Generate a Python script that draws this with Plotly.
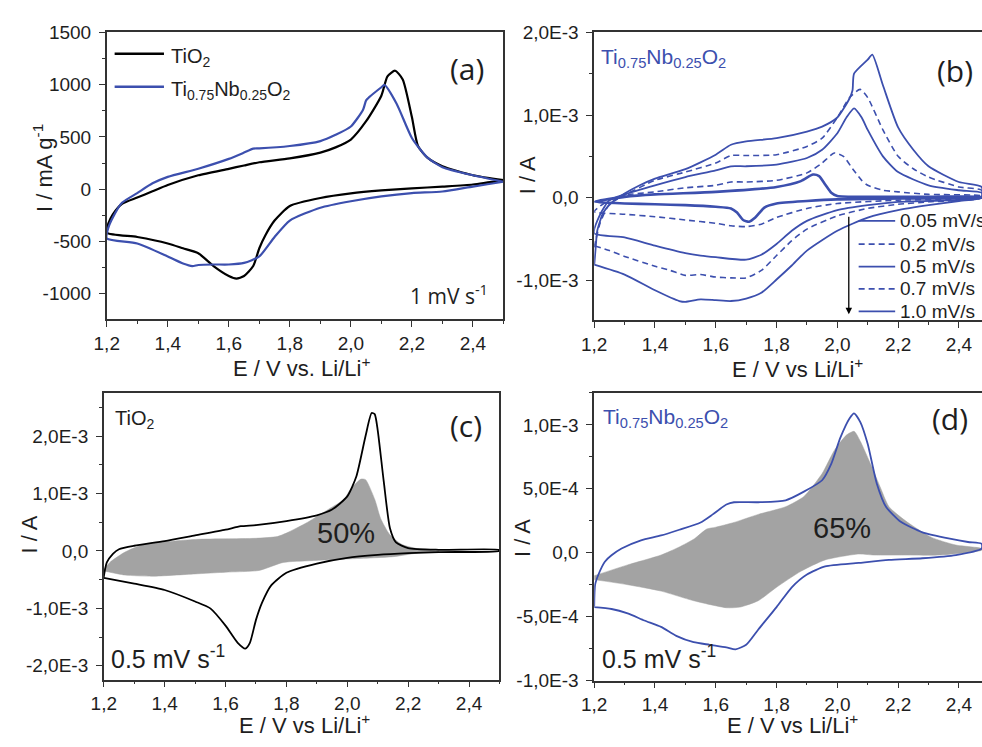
import plotly.graph_objects as go

W, H = 982, 747
BLUE = "#3c4fae"
GRAY = "#a3a3a3"
AX = "#333333"
TXT = "#1e1e1e"
FONT = "Arial, Liberation Sans, sans-serif"
FONT2 = "Open Sans, sans-serif"

# ---------------- Panel (a): I / mA g^-1, 1 mV/s ----------------
a_tio2_up_E = [1.2, 1.205, 1.22, 1.25, 1.3, 1.35, 1.4, 1.5, 1.6, 1.65, 1.7, 1.8, 1.9, 1.95, 2.0, 2.05, 2.1, 2.12, 2.145, 2.17, 2.2, 2.22, 2.25, 2.3, 2.4, 2.5]
a_tio2_up_I = [-415, -330, -240, -140, -80, -20, 40, 133, 195, 227, 258, 295, 350, 400, 475, 650, 894, 1080, 1133, 1050, 690, 413, 304, 220, 133, 87]
a_tio2_dn_E = [2.5, 2.4, 2.3, 2.2, 2.1, 2.0, 1.9, 1.8, 1.75, 1.72, 1.7, 1.68, 1.65, 1.625, 1.6, 1.55, 1.5, 1.45, 1.4, 1.3, 1.2]
a_tio2_dn_I = [87, 45, 25, 8, -12, -40, -84, -160, -300, -440, -565, -735, -830, -855, -830, -735, -612, -565, -519, -457, -415]

a_nb_up_E = [1.2, 1.205, 1.22, 1.25, 1.3, 1.35, 1.4, 1.5, 1.6, 1.65, 1.68, 1.7, 1.8, 1.9, 1.95, 2.0, 2.04, 2.05, 2.06, 2.1, 2.11, 2.15, 2.2, 2.25, 2.3, 2.4, 2.5]
a_nb_up_I = [-470, -370, -270, -130, -37, 56, 118, 196, 290, 350, 388, 390, 413, 460, 520, 600, 760, 850, 880, 975, 997, 817, 490, 304, 211, 133, 71]
a_nb_dn_E = [2.5, 2.4, 2.3, 2.2, 2.1, 2.0, 1.9, 1.8, 1.75, 1.7, 1.65, 1.6, 1.55, 1.5, 1.48, 1.45, 1.4, 1.3, 1.2]
a_nb_dn_I = [71, 25, -22, -37, -68, -115, -177, -300, -457, -643, -705, -720, -720, -725, -735, -710, -643, -519, -470]
a_names = ["TiO<sub>2</sub>", "Ti<sub>0.75</sub>Nb<sub>0.25</sub>O<sub>2</sub>"]

# ---------------- Panel (b): Ti0.75Nb0.25O2 at several scan rates (mA) ----------------
b_rates = ["0.05 mV/s", "0.2 mV/s", "0.5 mV/s", "0.7 mV/s", "1.0 mV/s"]
b_dashes = ["solid", "dash", "solid", "dash", "solid"]

b005_up_E = [1.2, 1.3, 1.4, 1.6, 1.8, 1.88, 1.92, 1.94, 1.96, 1.98, 2.0, 2.1, 2.3, 2.475]
b005_up_I = [-0.05, 0.01, 0.04, 0.07, 0.13, 0.2, 0.28, 0.26, 0.16, 0.06, 0.02, 0.01, 0.01, 0.01]
b005_dn_E = [2.475, 2.2, 2.0, 1.9, 1.8, 1.76, 1.73, 1.71, 1.69, 1.67, 1.65, 1.6, 1.5, 1.4, 1.3, 1.2]
b005_dn_I = [0.0, -0.01, -0.02, -0.04, -0.07, -0.12, -0.24, -0.29, -0.27, -0.18, -0.13, -0.11, -0.09, -0.08, -0.07, -0.05]

b02_up_E = [1.2, 1.22, 1.25, 1.3, 1.4, 1.5, 1.6, 1.65, 1.7, 1.8, 1.9, 1.95, 1.99, 2.02, 2.05, 2.08, 2.1, 2.15, 2.2, 2.3, 2.475]
b02_up_I = [-0.17, -0.1, -0.03, 0.03, 0.07, 0.12, 0.15, 0.19, 0.19, 0.21, 0.3, 0.42, 0.54, 0.5, 0.35, 0.21, 0.15, 0.09, 0.07, 0.04, 0.02]
b02_dn_E = [2.475, 2.2, 2.0, 1.9, 1.8, 1.75, 1.7, 1.65, 1.6, 1.5, 1.4, 1.3, 1.2]
b02_dn_I = [0.0, -0.03, -0.07, -0.13, -0.24, -0.32, -0.35, -0.34, -0.31, -0.27, -0.23, -0.2, -0.17]

b05_up_E = [1.2, 1.22, 1.25, 1.3, 1.4, 1.5, 1.6, 1.65, 1.7, 1.8, 1.9, 1.95, 2.0, 2.03, 2.055, 2.08, 2.1, 2.15, 2.2, 2.3, 2.4, 2.475]
b05_up_I = [-0.43, -0.2, -0.03, 0.04, 0.15, 0.25, 0.33, 0.38, 0.38, 0.40, 0.48, 0.58, 0.78, 0.97, 1.08, 0.97, 0.82, 0.5, 0.31, 0.15, 0.09, 0.06]
b05_dn_E = [2.475, 2.2, 2.1, 2.0, 1.9, 1.85, 1.8, 1.75, 1.7, 1.6, 1.55, 1.5, 1.4, 1.3, 1.2]
b05_dn_I = [0.0, -0.05, -0.09, -0.15, -0.28, -0.4, -0.56, -0.69, -0.75, -0.72, -0.70, -0.67, -0.58, -0.48, -0.43]

b07_up_E = [1.2, 1.22, 1.25, 1.3, 1.4, 1.5, 1.6, 1.65, 1.7, 1.8, 1.9, 1.95, 2.0, 2.04, 2.075, 2.1, 2.15, 2.2, 2.25, 2.3, 2.4, 2.475]
b07_up_I = [-0.6, -0.3, -0.08, 0.03, 0.21, 0.31, 0.42, 0.51, 0.51, 0.52, 0.62, 0.72, 0.97, 1.21, 1.31, 1.21, 0.82, 0.5, 0.35, 0.25, 0.13, 0.09]
b07_dn_E = [2.475, 2.3, 2.2, 2.1, 2.0, 1.9, 1.85, 1.8, 1.75, 1.7, 1.65, 1.6, 1.55, 1.5, 1.45, 1.4, 1.3, 1.25, 1.2]
b07_dn_I = [0.0, -0.05, -0.08, -0.13, -0.22, -0.38, -0.52, -0.7, -0.88, -0.97, -0.97, -0.96, -0.93, -0.94, -0.88, -0.83, -0.71, -0.64, -0.58]

b10_up_E = [1.2, 1.205, 1.21, 1.23, 1.26, 1.3, 1.35, 1.4, 1.5, 1.6, 1.65, 1.7, 1.8, 1.9, 1.95, 2.0, 2.04, 2.05, 2.055, 2.1, 2.115, 2.15, 2.2, 2.25, 2.3, 2.4, 2.475]
b10_up_I = [-0.82, -0.6, -0.4, -0.18, -0.05, 0.05, 0.15, 0.23, 0.345, 0.52, 0.64, 0.68, 0.72, 0.80, 0.86, 0.97, 1.2, 1.3, 1.5, 1.67, 1.73, 1.36, 0.85, 0.58, 0.38, 0.19, 0.13]
b10_dn_E = [2.475, 2.4, 2.3, 2.2, 2.1, 2.0, 1.9, 1.85, 1.8, 1.75, 1.7, 1.65, 1.6, 1.55, 1.5, 1.48, 1.4, 1.3, 1.2]
b10_dn_I = [0.0, -0.04, -0.09, -0.15, -0.24, -0.4, -0.64, -0.82, -0.99, -1.15, -1.22, -1.25, -1.24, -1.23, -1.26, -1.25, -1.12, -0.93, -0.81]

# ---------------- Panel (c): TiO2, 0.5 mV/s (mA) ----------------
c_up_E = [1.2, 1.205, 1.21, 1.23, 1.25, 1.3, 1.4, 1.5, 1.6, 1.65, 1.7, 1.8, 1.9, 1.95, 2.0, 2.03, 2.06, 2.08, 2.09, 2.1, 2.12, 2.14, 2.16, 2.2, 2.3, 2.5]
c_up_I = [-0.45, -0.3, -0.2, -0.05, 0.03, 0.09, 0.17, 0.27, 0.37, 0.43, 0.45, 0.52, 0.62, 0.72, 0.95, 1.3, 2.0, 2.4, 2.38, 2.1, 1.2, 0.4, 0.15, 0.05, 0.02, 0.02]
c_dn_E = [2.5, 2.3, 2.2, 2.1, 2.0, 1.9, 1.8, 1.75, 1.72, 1.7, 1.68, 1.665, 1.64, 1.6, 1.55, 1.5, 1.4, 1.3, 1.2]
c_dn_I = [0.0, -0.02, -0.04, -0.07, -0.12, -0.22, -0.38, -0.6, -0.9, -1.2, -1.6, -1.7, -1.6, -1.3, -1.0, -0.88, -0.68, -0.57, -0.47]
c_cap_up_E = [1.2, 1.22, 1.27, 1.33, 1.5, 1.6, 1.7, 1.77, 1.8, 1.87, 1.94, 1.99, 2.01, 2.045, 2.06, 2.09, 2.11, 2.14, 2.18, 2.24, 2.3]
c_cap_up_I = [-0.34, -0.2, -0.02, 0.11, 0.2, 0.21, 0.22, 0.25, 0.31, 0.5, 0.73, 0.9, 1.07, 1.25, 1.24, 0.9, 0.56, 0.28, 0.11, 0.03, 0.0]
c_cap_dn_E = [2.3, 2.24, 2.15, 2.0, 1.88, 1.79, 1.71, 1.6, 1.5, 1.36, 1.27, 1.22, 1.2]
c_cap_dn_I = [-0.01, -0.03, -0.1, -0.14, -0.17, -0.2, -0.34, -0.37, -0.4, -0.44, -0.42, -0.37, -0.34]

# ---------------- Panel (d): Ti0.75Nb0.25O2, 0.5 mV/s (1e-4 A) ----------------
d_up_E = [1.2, 1.203, 1.214, 1.235, 1.257, 1.29, 1.354, 1.42, 1.48, 1.55, 1.59, 1.635, 1.66, 1.74, 1.83, 1.89, 1.95, 1.98, 2.01, 2.04, 2.055, 2.076, 2.1, 2.13, 2.16, 2.21, 2.28, 2.37, 2.43, 2.475]
d_up_I = [-4.2, -2.5, -1.7, -0.7, -0.2, 0.33, 0.97, 1.35, 1.8, 2.37, 3.0, 3.77, 3.95, 3.95, 4.1, 4.78, 5.67, 6.95, 9.0, 10.5, 10.9, 10.2, 8.5, 5.4, 3.6, 2.4, 1.6, 1.1, 0.84, 0.7]
d_dn_E = [2.475, 2.39, 2.28, 2.17, 2.07, 1.96, 1.9, 1.85, 1.8, 1.74, 1.7, 1.665, 1.635, 1.58, 1.527, 1.47, 1.42, 1.365, 1.31, 1.257, 1.2]
d_dn_I = [0.33, -0.18, -0.43, -0.56, -0.8, -1.07, -1.7, -2.7, -4.25, -6.0, -7.2, -7.55, -7.4, -7.2, -7.0, -6.5, -5.8, -5.3, -4.75, -4.4, -4.25]
d_cap_up_E = [1.2, 1.31, 1.42, 1.48, 1.53, 1.57, 1.6, 1.66, 1.74, 1.83, 1.89, 1.95, 1.99, 2.03, 2.055, 2.076, 2.11, 2.14, 2.17, 2.23, 2.31, 2.39, 2.475]
d_cap_up_I = [-1.8, -0.95, -0.18, 0.45, 1.1, 1.85, 2.0, 2.37, 3.0, 3.6, 4.4, 6.2, 8.0, 9.2, 9.5, 8.7, 6.9, 5.2, 3.6, 2.4, 1.2, 0.6, 0.33]
d_cap_dn_E = [2.475, 2.335, 2.23, 2.12, 2.07, 1.96, 1.88, 1.8, 1.74, 1.68, 1.635, 1.527, 1.42, 1.31, 1.2]
d_cap_dn_I = [0.2, -0.18, -0.18, -0.18, -0.1, -0.56, -1.45, -2.7, -3.75, -4.25, -4.3, -3.75, -3.0, -2.5, -2.1]

# ---------------- tick labels ----------------
x_tickvals = [1.2, 1.4, 1.6, 1.8, 2.0, 2.2, 2.4]
x_ticktext = ["1,2", "1,4", "1,6", "1,8", "2,0", "2,2", "2,4"]
a_y_tickvals = [-1000, -500, 0, 500, 1000, 1500]
a_y_ticktext = ["-1000", "-500", "0", "500", "1000", "1500"]
b_y_tickvals = [-1e-3, 0, 1e-3, 2e-3]
b_y_ticktext = ["-1,0E-3", "0,0", "1,0E-3", "2,0E-3"]
c_y_tickvals = [-2e-3, -1e-3, 0, 1e-3, 2e-3]
c_y_ticktext = ["-2,0E-3", "-1,0E-3", "0,0", "1,0E-3", "2,0E-3"]
d_y_tickvals = [-1e-3, -5e-4, 0, 5e-4, 1e-3]
d_y_ticktext = ["-1,0E-3", "-5,0E-4", "0,0", "5,0E-4", "1,0E-3"]


def loop(upE, upI, dnE, dnI, scale=1.0):
    return list(upE) + list(dnE), [v * scale for v in list(upI) + list(dnI)]


SM = 0.6
fig = go.Figure()

# (a)
x, y = loop(a_tio2_up_E, a_tio2_up_I, a_tio2_dn_E, a_tio2_dn_I)
fig.add_trace(go.Scatter(x=x, y=y, mode="lines", line=dict(color="black", width=2.2, shape="spline", smoothing=SM),
                         name="TiO2", showlegend=False, xaxis="x", yaxis="y"))
x, y = loop(a_nb_up_E, a_nb_up_I, a_nb_dn_E, a_nb_dn_I)
fig.add_trace(go.Scatter(x=x, y=y, mode="lines", line=dict(color=BLUE, width=2.2, shape="spline", smoothing=SM),
                         name="Ti0.75Nb0.25O2", showlegend=False, xaxis="x", yaxis="y"))

# (b)
b_data = [
    (b005_up_E, b005_up_I, b005_dn_E, b005_dn_I, 2.6),
    (b02_up_E, b02_up_I, b02_dn_E, b02_dn_I, 1.6),
    (b05_up_E, b05_up_I, b05_dn_E, b05_dn_I, 1.8),
    (b07_up_E, b07_up_I, b07_dn_E, b07_dn_I, 1.6),
    (b10_up_E, b10_up_I, b10_dn_E, b10_dn_I, 1.8),
]
for (uE, uI, dE, dI, lw), name, dsh in zip(b_data, b_rates, b_dashes):
    x, y = loop(uE, uI, dE, dI, 1e-3)
    fig.add_trace(go.Scatter(x=x, y=y, mode="lines",
                             line=dict(color=BLUE, width=lw, shape="spline", smoothing=SM,
                                       dash="6px,4px" if dsh == "dash" else "solid"),
                             name=name, showlegend=False, xaxis="x2", yaxis="y2"))

# (c)
x, y = loop(c_cap_up_E, c_cap_up_I, c_cap_dn_E, c_cap_dn_I, 1e-3)
fig.add_trace(go.Scatter(x=x, y=y, mode="lines", fill="toself", fillcolor=GRAY,
                         line=dict(color=GRAY, width=0.5, shape="spline", smoothing=SM),
                         showlegend=False, xaxis="x3", yaxis="y3"))
x, y = loop(c_up_E, c_up_I, c_dn_E, c_dn_I, 1e-3)
fig.add_trace(go.Scatter(x=x, y=y, mode="lines", line=dict(color="black", width=1.8, shape="spline", smoothing=SM),
                         showlegend=False, xaxis="x3", yaxis="y3"))

# (d)
x, y = loop(d_cap_up_E, d_cap_up_I, d_cap_dn_E, d_cap_dn_I, 1e-4)
fig.add_trace(go.Scatter(x=x, y=y, mode="lines", fill="toself", fillcolor=GRAY,
                         line=dict(color=GRAY, width=0.5, shape="spline", smoothing=SM),
                         showlegend=False, xaxis="x4", yaxis="y4"))
x, y = loop(d_up_E, d_up_I, d_dn_E, d_dn_I, 1e-4)
fig.add_trace(go.Scatter(x=x, y=y, mode="lines", line=dict(color=BLUE, width=1.8, shape="spline", smoothing=SM),
                         showlegend=False, xaxis="x4", yaxis="y4"))

tickfont = dict(family=FONT, size=19, color=TXT)


def xax(domain, anchor, rng):
    return dict(domain=domain, anchor=anchor, range=rng, tickmode="array",
                tickvals=x_tickvals, ticktext=x_ticktext, ticks="outside", ticklen=6,
                tickwidth=1.3, tickcolor=AX, showline=True, linecolor=AX, linewidth=1.5,
                mirror=True, showgrid=False, zeroline=False, tickfont=tickfont,
                minor=dict(dtick=0.1, tick0=1.2, ticks="outside", ticklen=3, tickcolor=AX, showgrid=False))


def yax(domain, anchor, rng, tv, tt, minor_dtick, mirror=True):
    return dict(domain=domain, anchor=anchor, range=rng, tickmode="array",
                tickvals=tv, ticktext=tt, ticks="outside", ticklen=6, tickwidth=1.3, tickcolor=AX,
                showline=True, linecolor=AX, linewidth=1.5, mirror=mirror, showgrid=False,
                zeroline=False, tickfont=tickfont, ticklabelstandoff=4,
                minor=dict(dtick=minor_dtick, tick0=0, ticks="outside", ticklen=3, tickcolor=AX, showgrid=False))


def px_x(a, b):
    return [a / W, b / W]


def px_y(top, bottom):
    return [1 - bottom / H, 1 - top / H]


fig.update_layout(
    width=W, height=H, margin=dict(l=0, r=0, t=0, b=0),
    paper_bgcolor="white", plot_bgcolor="white", showlegend=False,
    xaxis=xax(px_x(95, 497), "y", [1.2, 2.5]),
    yaxis=yax(px_y(23, 318), "x", [-1242, 1500], a_y_tickvals, a_y_ticktext, 250),
    xaxis2=xax(px_x(589, 982), "y2", [1.2, 2.476]),
    yaxis2=yax(px_y(23, 319), "x2", [-1.48e-3, 2.0e-3], b_y_tickvals, b_y_ticktext, 0.5e-3, mirror=False),
    xaxis3=xax(px_x(92, 493), "y3", [1.2, 2.5]),
    yaxis3=yax(px_y(394, 689), "x3", [-2.24e-3, 2.75e-3], c_y_tickvals, c_y_ticktext, 0.5e-3),
    xaxis4=xax(px_x(589, 982), "y4", [1.2, 2.476]),
    yaxis4=yax(px_y(394, 690), "x4", [-1.0e-3, 1.25e-3], d_y_tickvals, d_y_ticktext, 0.25e-3, mirror=False),
)


def add_text(text, px, py, size, color=TXT, family=FONT, angle=0, xanchor="center"):
    fig.add_annotation(text=text, x=px / W, y=1 - py / H, xref="paper", yref="paper",
                       showarrow=False, xanchor=xanchor, yanchor="middle", textangle=angle,
                       font=dict(size=size, color=color, family=family))


# axis titles
add_text("E / V vs. Li/Li<sup>+</sup>", 292, 367, 22)
add_text("E / V vs Li/Li<sup>+</sup>", 795, 368, 22)
add_text("E / V vs Li/Li<sup>+</sup>", 295, 735, 22)
add_text("E / V vs Li/Li<sup>+</sup>", 790, 735, 22)
add_text("I / mA g<sup>-1</sup>", 31, 163, 22, angle=-90)
add_text("I / A", 521, 170, 22, angle=-90)
add_text("I / A", 17, 540, 22, angle=-90)
add_text("I / A", 517, 543, 22, angle=-90)

# legend (a)
for name, col, ly in zip(a_names, ["black", BLUE], [45, 79]):
    fig.add_shape(type="line", xref="paper", yref="paper", x0=103 / W, x1=153 / W,
                  y0=1 - ly / H, y1=1 - ly / H, line=dict(color=col, width=2.5))
    add_text(name, 158, ly + 4, 20, xanchor="left")

# legend (b)
for name, dsh, ly in zip(b_rates, b_dashes, [217, 241, 264, 287, 310]):
    fig.add_shape(type="line", xref="paper", yref="paper", x0=857 / W, x1=894 / W,
                  y0=1 - ly / H, y1=1 - ly / H,
                  line=dict(color=BLUE, width=1.8, dash="6px,4px" if dsh == "dash" else "solid"))
    add_text(name, 897, ly, 19, xanchor="left")

fig.add_annotation(x=847 / W, y=1 - 313 / H, ax=0, ay=-99, xref="paper", yref="paper",
                   axref="pixel", ayref="pixel", text="", showarrow=True, arrowhead=2, arrowsize=1,
                   arrowwidth=1.3, arrowcolor="black")

# panel labels / notes
add_text("(a)", 460, 60, 30, family=FONT2)
add_text("(b)", 955, 62, 30, family=FONT2)
add_text("(c)", 459, 428, 30, family=FONT2)
add_text("(d)", 950, 420, 30, family=FONT2)
add_text("1 mV s<sup>-1</sup>", 442, 293, 21, family=FONT2)
add_text("Ti<sub>0.75</sub>Nb<sub>0.25</sub>O<sub>2</sub>", 659, 49, 21, color=BLUE)
add_text("TiO<sub>2</sub>", 123, 421, 20)
add_text("50%", 337, 538, 29)
add_text("0.5 mV s<sup>-1</sup>", 157, 666, 25)
add_text("Ti<sub>0.75</sub>Nb<sub>0.25</sub>O<sub>2</sub>", 661, 420, 21, color=BLUE)
add_text("65%", 840, 533, 29)
add_text("0.5 mV s<sup>-1</sup>", 655, 666, 25)

fig.write_html("out.html",
               post_script="document.body.style.margin='0px';document.body.style.overflow='hidden';")
